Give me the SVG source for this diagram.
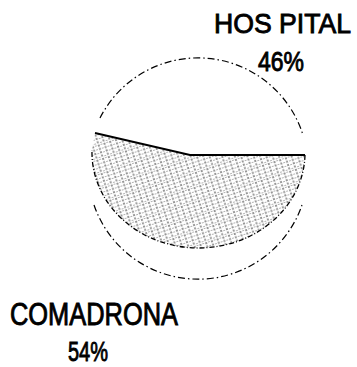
<svg xmlns="http://www.w3.org/2000/svg" width="357" height="367" viewBox="0 0 357 367">
<defs>
<pattern id="hatch" patternUnits="userSpaceOnUse" width="6" height="14" patternTransform="rotate(-18)">
<line x1="1" y1="0" x2="1" y2="14" stroke="#000" stroke-width="1.1" stroke-dasharray="2 1.5"/>
<line x1="4" y1="0" x2="4" y2="14" stroke="#000" stroke-width="0.8" stroke-dasharray="1 3"/>
</pattern>
<style>
.lbl{font-family:"Liberation Sans","DejaVu Sans",sans-serif;fill:#000;stroke:#000;stroke-width:0.9;}
.outer{fill:none;stroke:#000;stroke-width:1.2;stroke-dasharray:7 3 1.5 3;}
</style>
</defs>
<rect width="357" height="367" fill="#fff"/>
<g id="pie">
<path class="outer" d="M100,118 A110,110 0 0 1 303,135"/>
<path class="outer" d="M94,205 A110,110 0 0 0 302,205" stroke-dasharray="2 6 1 5"/>
<path d="M95,133 L190,155 L305,155 A106,95 0 0 1 92,150 Z" fill="url(#hatch)" fill-opacity="0.75" stroke="none"/>
<path d="M95,133 L190,155 L305,155" fill="none" stroke="#000" stroke-width="1.8"/>
<path d="M305,155 A106,95 0 0 1 92,150" fill="none" stroke="#000" stroke-width="1.3" stroke-dasharray="5 2 1 2"/>
</g>
<g id="hospital">
<text class="lbl" x="214" y="33" font-size="28" textLength="137" lengthAdjust="spacingAndGlyphs">HOS PITAL</text>
<text class="lbl" x="258" y="71" font-size="28" textLength="46" lengthAdjust="spacingAndGlyphs">46%</text>
</g>
<g id="comadrona">
<text class="lbl" x="10" y="325" font-size="31" textLength="168" lengthAdjust="spacingAndGlyphs">COMADRONA</text>
<text class="lbl" x="68" y="361" font-size="28" textLength="40" lengthAdjust="spacingAndGlyphs">54%</text>
</g>
</svg>
